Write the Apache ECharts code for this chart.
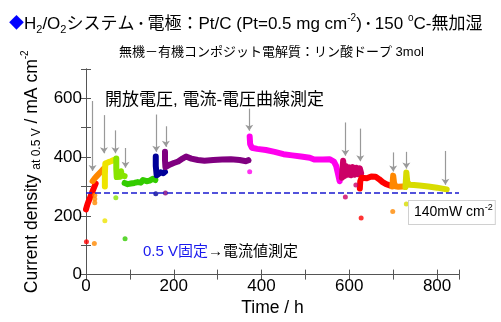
<!DOCTYPE html>
<html>
<head>
<meta charset="utf-8">
<script src="https://cdn.jsdelivr.net/npm/echarts@6/dist/echarts.min.js"></script>
<style>
html, body { margin: 0; padding: 0; background: #fff; }
#chart { width: 501px; height: 322px; }
</style>
</head>
<body>
<div id="chart"></div>
<script>
var FONT = "'Liberation Sans', 'Noto Sans CJK JP', sans-serif";

// 各区間の電流密度 [時間 h, mA cm-2]
var redA = [[0, 222], [3, 238], [6, 250], [10, 265], [14, 280], [18, 295], [22, 310]];
var orangeA = [[15, 318], [20, 328], [25, 336], [30, 344], [35, 352], [40, 360]];
var yellowA = [[43, 300], [43, 340], [44, 378], [50, 382], [57, 386], [63, 390], [67, 388]];
var limeA = [[69, 395], [69, 360], [70, 332], [74, 328], [78, 333], [80, 352], [81, 338], [85, 333], [88, 335]];
var greenA = [[88, 312], [95, 308], [102, 310], [110, 312], [118, 315], [125, 313], [130, 322], [138, 318], [145, 320], [152, 326], [158, 322]];
var navyA = [[159, 402], [159, 370], [161, 338], [165, 342], [170, 348], [176, 345], [180, 350]];
var purpleA = [[180, 418], [180, 390], [181, 366], [185, 372], [192, 375], [200, 380], [210, 385], [220, 395], [228, 402], [240, 395], [255, 390], [270, 388], [290, 390], [310, 392], [330, 393], [350, 390], [365, 386], [370, 390]];
var magentaA = [[373, 470], [374, 445], [378, 432], [390, 428], [410, 424], [430, 418], [450, 410], [470, 406], [490, 402], [510, 398], [520, 392], [540, 392], [555, 393], [565, 385], [570, 370], [574, 345], [578, 318]];
var crimsonA = [[583, 330], [586, 388], [589, 335], [592, 370], [596, 340], [600, 365], [604, 338], [608, 366], [612, 340], [616, 364], [620, 342], [624, 362], [627, 345]];
var redB = [[624, 293], [625, 318], [628, 330], [640, 328], [650, 334], [660, 333], [668, 325], [676, 315], [684, 308], [692, 304]];
var orangeB = [[698, 300], [700, 337], [702, 312], [705, 301], [712, 299], [722, 300]];
var yellowB = [[728, 298], [730, 348], [732, 318], [736, 306], [747, 305], [760, 303], [780, 300], [800, 296], [815, 292], [822, 290]];

// 外れ点（0.5 V 固定後の測定値）
var redAOut = [[1, 112]];
var orangeAOut = [[19, 106], [20, 245], [20, 257], [20, 270]];
var yellowAOut = [[43, 183]];
var limeAOut = [[68, 262]];
var greenAOut = [[89, 122]];
var navyAOut = [[159, 275]];
var purpleAOut = [[181, 278], [371, 388]];
var magentaAOut = [[373, 350]];
var crimsonAOut = [[591, 264], [615, 305]];
var redBOut = [[627, 193]];
var orangeBOut = [[699, 215]];
var yellowBOut = [[730, 240]];

// 開放電圧・I-V 測定の矢印
var arrowT = [15, 41, 67, 90, 160, 182, 372, 591, 625, 700, 730, 819];
var arrowTop = [591, 543, 491, 431, 545, 505, 565, 518, 497, 416, 418, 421];
var arrowEnd = [353, 413, 413, 364, 418, 435, 490, 405, 386, 351, 361, 306];

var powerLine = 280; // 140mW cm-2 相当

var segments = [redA, orangeA, yellowA, limeA, greenA, navyA, purpleA, magentaA, crimsonA, redB, orangeB, yellowB];
var outliers = [redAOut, orangeAOut, yellowAOut, limeAOut, greenAOut, navyAOut, purpleAOut, magentaAOut, crimsonAOut, redBOut, orangeBOut, yellowBOut];
var segColors = ['#ff0000', '#ff8800', '#eee400', '#88e400', '#33cc00', '#000099', '#800080', '#ff00ee', '#cc0066', '#ff0000', '#ff8800', '#d8dc00'];

var myChart = echarts.init(document.getElementById('chart'));

var arrowData = [];
for (var i = 0; i < arrowT.length; i++) {
  arrowData.push([{ coord: [arrowT[i], arrowTop[i]] }, { coord: [arrowT[i], arrowEnd[i]] }]);
}

var series = [];
for (var k = 0; k < segments.length; k++) {
  series.push({
    type: 'line',
    data: segments[k],
    showSymbol: false,
    symbol: 'none',
    color: segColors[k],
    lineStyle: { width: 6, color: segColors[k], cap: 'round', join: 'round' },
    z: 3
  });
  series.push({
    type: 'scatter',
    data: outliers[k],
    symbolSize: 5,
    itemStyle: { color: segColors[k] },
    z: 3
  });
}

// 矢印
series.push({
  type: 'line',
  data: [],
  markLine: {
    silent: true,
    symbol: ['none', 'arrow'],
    symbolSize: 6,
    label: { show: false },
    lineStyle: { color: '#999', width: 1.2, type: 'solid' },
    data: arrowData
  }
});
// 140mW cm-2 の点線
series.push({
  type: 'line',
  data: [],
  markLine: {
    silent: true,
    symbol: 'none',
    label: { show: false },
    lineStyle: { color: '#1a1ad0', width: 1.5, type: [6, 3] },
    data: [{ yAxis: powerLine }]
  }
});

var axisCol = '#555';

var option = {
  animation: false,
  grid: { left: 86, right: 42, top: 69, bottom: 39 },
  xAxis: [
    {
      type: 'value',
      min: 0,
      max: 850,
      interval: 100,
      axisLine: { show: true, lineStyle: { color: axisCol } },
      axisTick: { inside: true, length: 5, lineStyle: { color: axisCol } },
      axisLabel: {
        margin: 3,
        fontSize: 17,
        fontFamily: FONT,
        color: '#000',
        formatter: function (v) { return (v % 200 === 0 && v <= 800) ? String(v) : ''; }
      },
      splitLine: { show: false },
      name: 'Time / h',
      nameLocation: 'middle',
      nameGap: 22,
      nameTextStyle: { fontSize: 17.5, fontFamily: FONT, color: '#000' }
    },
    {
      type: 'value',
      position: 'top',
      min: 0,
      max: 850,
      interval: 100,
      axisLine: { show: true, lineStyle: { color: axisCol } },
      axisTick: { inside: true, length: 5, lineStyle: { color: axisCol } },
      axisLabel: { show: false },
      splitLine: { show: false }
    }
  ],
  yAxis: [
    {
      type: 'value',
      min: 0,
      max: 700,
      interval: 100,
      axisLine: { show: true, lineStyle: { color: axisCol } },
      axisTick: { inside: true, length: 5, lineStyle: { color: axisCol } },
      axisLabel: {
        margin: 4,
        fontSize: 17,
        fontFamily: FONT,
        color: '#000',
        formatter: function (v) { return (v % 200 === 0) ? String(v) : ''; }
      },
      splitLine: { show: false },
      name: '{m|Current density }{s|at 0.5 V}{m| / mA cm}{p|-2}',
      nameLocation: 'middle',
      nameGap: 32,
      nameTextStyle: {
        rich: {
          m: { fontSize: 17.5, fontFamily: FONT, color: '#000', lineHeight: 22 },
          s: { fontSize: 12, fontFamily: FONT, color: '#000', lineHeight: 14, verticalAlign: 'bottom' },
          p: { fontSize: 10, fontFamily: FONT, color: '#000', lineHeight: 12, verticalAlign: 'top' }
        }
      }
    },
    {
      type: 'value',
      position: 'right',
      min: 0,
      max: 700,
      interval: 100,
      axisLine: { show: true, lineStyle: { color: axisCol } },
      axisTick: { inside: true, length: 5, lineStyle: { color: axisCol } },
      axisLabel: { show: false },
      splitLine: { show: false }
    }
  ],
  graphic: [
    {
      type: 'text',
      x: 9,
      y: 24,
      style: {
        text: '{d|◆}{t|H}{b|2}{t|/O}{b|2}{t|システム}{n|・}{t|電極：Pt/C (Pt=0.5 mg cm}{u|-2}{t|)}{n|・}{t|150 }{u|o}{t|C-無加湿}',
        verticalAlign: 'middle',
        textVerticalAlign: 'middle',
        rich: {
          d: { fontSize: 15, fontFamily: FONT, fill: '#0000ff', lineHeight: 22 },
          t: { fontSize: 17, fontFamily: FONT, fill: '#000', lineHeight: 22 },
          n: { fontSize: 13, fontFamily: FONT, fill: '#000', lineHeight: 22 },
          b: { fontSize: 11, fontFamily: FONT, fill: '#000', lineHeight: 13, verticalAlign: 'bottom' },
          u: { fontSize: 10, fontFamily: FONT, fill: '#000', lineHeight: 12, verticalAlign: 'top' }
        }
      }
    },
    {
      type: 'text',
      x: 119,
      y: 52,
      style: {
        text: '無機－有機コンポジット電解質：リン酸ドープ 3mol',
        font: '13px ' + FONT,
        fill: '#000',
        verticalAlign: 'middle',
        textVerticalAlign: 'middle'
      }
    },
    {
      type: 'text',
      x: 105,
      y: 100,
      z: 10,
      style: {
        text: '開放電圧, 電流-電圧曲線測定',
        font: '17px ' + FONT,
        fill: '#000',
        verticalAlign: 'middle',
        textVerticalAlign: 'middle'
      }
    },
    {
      type: 'text',
      x: 143,
      y: 252,
      z: 10,
      style: {
        text: '{b|0.5 V固定}{k|→電流値測定}',
        verticalAlign: 'middle',
        textVerticalAlign: 'middle',
        rich: {
          b: { fontSize: 15, fontFamily: FONT, fill: '#1a1aee' },
          k: { fontSize: 15, fontFamily: FONT, fill: '#000' }
        }
      }
    },
    {
      type: 'text',
      x: 409,
      y: 201,
      z: 20,
      style: {
        text: '{t|140mW cm}{u|-2}',
        backgroundColor: '#fff',
        borderColor: '#d0d0d0',
        borderWidth: 1,
        padding: [2, 2, 2, 5],
        rich: {
          t: { fontSize: 14, fontFamily: FONT, fill: '#000', lineHeight: 19 },
          u: { fontSize: 9, fontFamily: FONT, fill: '#000', lineHeight: 11, verticalAlign: 'top' }
        }
      }
    }
  ],
  series: series
};

myChart.setOption(option);
</script>
</body>
</html>
